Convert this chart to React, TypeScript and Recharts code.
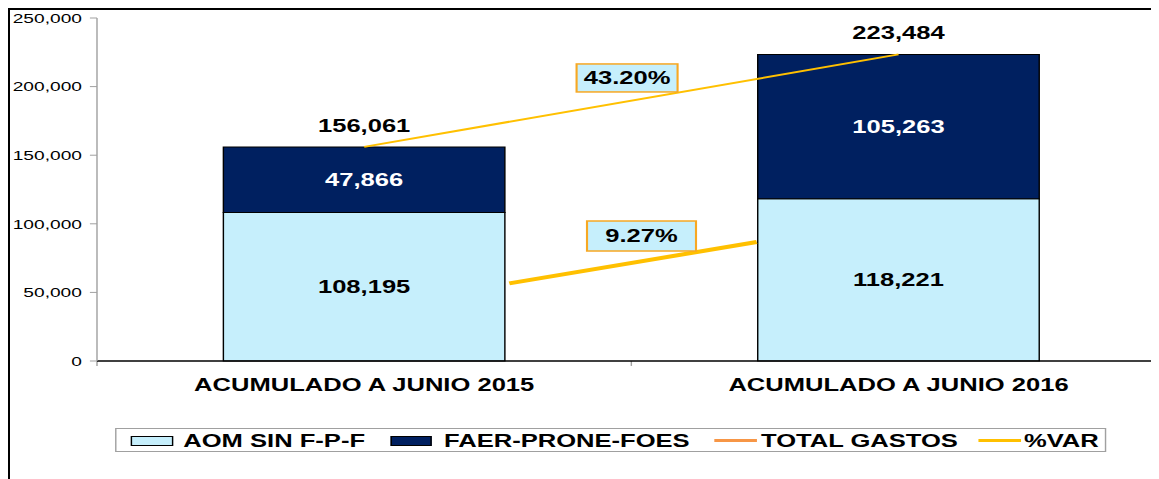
import React from 'react';
import {
  ComposedChart,
  Bar,
  Line,
  XAxis,
  YAxis,
  ReferenceLine,
  ReferenceDot,
  LabelList,
  Legend,
} from 'recharts';

// ---------- data ----------
const categories = ['ACUMULADO A JUNIO 2015', 'ACUMULADO A JUNIO 2016'];
const aomValues = [108195, 118221];
const faerValues = [47866, 105263];
const totalValues = [156061, 223484];
const yTicks = [0, 50000, 100000, 150000, 200000, 250000];
const varLabels = ['43.20%', '9.27%'];
const legendLabels = ['AOM SIN F-P-F', 'FAER-PRONE-FOES', 'TOTAL GASTOS', '%VAR'];

const data = categories.map((name, i) => ({
  name,
  aom: aomValues[i],
  faer: faerValues[i],
  total: totalValues[i],
}));

// ---------- style / layout ----------
const S = 1.42; // horizontal stretch of the original picture
const W = 816;
const H = 469;
const FONT = '"Liberation Sans", Arial, Helvetica, sans-serif';
const LIGHT = '#C6EFFC';
const NAVY = '#002060';
const GOLD = '#FFC000';
const ORANGE = '#F79646';
const BOX_STROKE = '#F7A823';
const px = (X: number) => (X - 10) / S; // page x -> chart x
const py = (Y: number) => Y - 10; // page y -> chart y

const fmt = (v: any) => Number(v).toLocaleString('en-US');

// annotation geometry (numeric helper axis 0..2 spans the two category bands, value axis)
const varBoxes = [
  { x: 0.992, y: 206300, w: 101 / S, h: 28, text: varLabels[0] },
  { x: 1.019, y: 91100, w: 109 / S, h: 30, text: varLabels[1] },
];
const aomArrow = [
  { x: 0.7716, y: 56600 },
  { x: 1.2346, y: 86700 },
];

const VarBox = (props: any) => {
  const { cx, cy, w, h, text } = props;
  return (
    <g>
      <rect
        x={cx - w / 2}
        y={cy - h / 2}
        width={w}
        height={h}
        fill={LIGHT}
        stroke={BOX_STROKE}
        strokeWidth={1.5}
      />
      <text
        x={cx}
        y={cy}
        textAnchor="middle"
        dominantBaseline="central"
        fontSize={18}
        fontWeight="bold"
        fontFamily={FONT}
        fill="#000"
      >
        {text}
      </text>
    </g>
  );
};

const CatTick = (props: any) => {
  const { x, y, payload } = props;
  return (
    <text
      x={x}
      y={y + 17}
      dy="0.71em"
      textAnchor="middle"
      fontSize={18}
      fontWeight="bold"
      fontFamily={FONT}
      fill="#000"
    >
      {payload.value}
    </text>
  );
};

const LegendContent = () => {
  const textStyle: React.CSSProperties = {
    position: 'absolute',
    top: 420.8,
    fontSize: 18,
    lineHeight: '20px',
    fontWeight: 'bold',
    fontFamily: FONT,
    color: '#000',
    whiteSpace: 'nowrap',
  };
  const rectSw = (left: number, fill: string): React.CSSProperties => ({
    position: 'absolute',
    left,
    top: py(436),
    width: 42 / S,
    height: 9.7,
    background: fill,
    border: '1px solid #000',
    boxSizing: 'border-box',
  });
  const lineSw = (left: number, color: string): React.CSSProperties => ({
    position: 'absolute',
    left,
    top: py(439.2),
    width: 43 / S,
    height: 2.5,
    background: color,
  });
  return (
    <div style={{ position: 'relative' }}>
      <div
        style={{
          position: 'absolute',
          left: px(115.7),
          top: py(427.7),
          width: (1106 - 115.7) / S,
          height: 24.6,
          border: '1px solid #A0A0A0',
          boxSizing: 'border-box',
          background: '#fff',
        }}
      />
      <div style={rectSw(px(130.7), LIGHT)} />
      <div style={{ ...textStyle, left: px(183.3) }}>{legendLabels[0]}</div>
      <div style={rectSw(px(390), NAVY)} />
      <div style={{ ...textStyle, left: px(444) }}>{legendLabels[1]}</div>
      <div style={lineSw(px(714), ORANGE)} />
      <div style={{ ...textStyle, left: px(761) }}>{legendLabels[2]}</div>
      <div style={lineSw(px(978), GOLD)} />
      <div style={{ ...textStyle, left: px(1024) }}>{legendLabels[3]}</div>
    </div>
  );
};

export default function App() {
  return (
    <div
      style={{
        width: 1151,
        height: 471,
        overflow: 'hidden',
        borderTop: '2px solid #000',
        borderLeft: '2px solid #000',
        boxSizing: 'border-box',
        background: '#fff',
        fontFamily: FONT,
      }}
    >
      <div style={{ width: W, height: H, transform: `scale(${S},1)`, transformOrigin: '0 0' }}>
        <ComposedChart
          width={W}
          height={H}
          data={data}
          margin={{ top: 8, right: W - px(1165.7), bottom: 0, left: 0 }}
        >
          <XAxis
            dataKey="name"
            xAxisId={0}
            interval={0}
            height={H - 8 - 343}
            tickSize={0}
            tickMargin={0}
            tickLine={false}
            axisLine={{ stroke: '#000', strokeWidth: 1.5 }}
            tick={<CatTick />}
          />
          <XAxis
            xAxisId="n"
            type="number"
            dataKey={() => 1}
            domain={[0, 2]}
            allowDataOverflow
            hide
          />
          <YAxis
            domain={[0, 250000]}
            ticks={yTicks}
            interval={0}
            width={px(97)}
            tickSize={5}
            tickMargin={5.6}
            tickFormatter={fmt}
            axisLine={{ stroke: '#A0A0A0' }}
            tickLine={{ stroke: '#A0A0A0' }}
            tick={{ fontSize: 13.5, fill: '#000', fontFamily: FONT }}
          />
          <Bar
            dataKey="aom"
            name={legendLabels[0]}
            stackId="a"
            fill={LIGHT}
            stroke="#000"
            strokeWidth={1}
            barSize={281.5 / S}
            isAnimationActive={false}
          >
            <LabelList
              dataKey="aom"
              position="center"
              formatter={fmt}
              fill="#000"
              fontSize={18}
              fontWeight="bold"
              fontFamily={FONT}
            />
          </Bar>
          <Bar
            dataKey="faer"
            name={legendLabels[1]}
            stackId="a"
            fill={NAVY}
            stroke="#000"
            strokeWidth={1}
            barSize={281.5 / S}
            isAnimationActive={false}
          >
            <LabelList
              dataKey="faer"
              position="center"
              formatter={fmt}
              fill="#fff"
              fontSize={18}
              fontWeight="bold"
              fontFamily={FONT}
            />
          </Bar>
          <Line
            dataKey="total"
            name={legendLabels[2]}
            stroke={GOLD}
            strokeWidth={2}
            dot={false}
            activeDot={false}
            isAnimationActive={false}
          >
            <LabelList
              dataKey="total"
              position="top"
              offset={15}
              formatter={fmt}
              fill="#000"
              fontSize={18}
              fontWeight="bold"
              fontFamily={FONT}
            />
          </Line>
          <ReferenceLine
            xAxisId="n"
            segment={aomArrow}
            stroke={GOLD}
            strokeWidth={4}
            ifOverflow="visible"
          />
          {[0, 1, 2].map((b) => (
            <ReferenceLine
              key={'bt' + b}
              xAxisId="n"
              segment={[
                { x: b, y: 0 },
                { x: b, y: -3600 },
              ]}
              stroke="#A0A0A0"
              strokeWidth={1}
              ifOverflow="visible"
            />
          ))}
          {varBoxes.map((b, i) => (
            <ReferenceDot
              key={'vb' + i}
              xAxisId="n"
              x={b.x}
              y={b.y}
              r={0}
              ifOverflow="visible"
              shape={(p: any) => <VarBox cx={p.cx} cy={p.cy} w={b.w} h={b.h} text={b.text} />}
            />
          ))}
          <Legend
            content={<LegendContent />}
            wrapperStyle={{ position: 'absolute', left: 0, top: 0, width: 0, height: 0 }}
          />
        </ComposedChart>
      </div>
    </div>
  );
}
